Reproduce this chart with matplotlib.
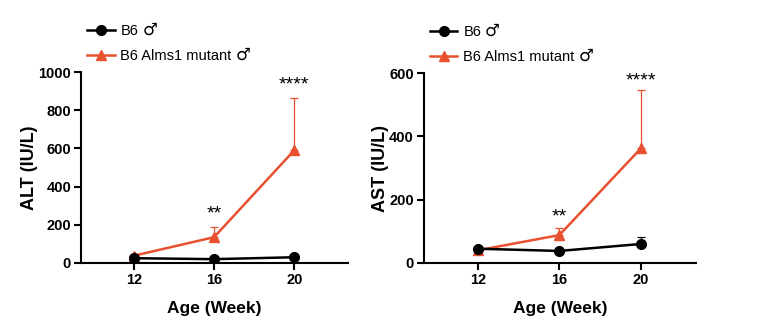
import matplotlib
matplotlib.use("Agg")
import matplotlib.pyplot as plt
from matplotlib.lines import Line2D

plt.rcParams['font.family'] = ['Liberation Sans', 'DejaVu Sans']

weeks = [12, 16, 20]
groups = ["B6", "B6 Alms1 mutant"]

alt_b6 = [25, 20, 30]
alt_b6_err = [5, 4, 6]
alt_mut = [38, 135, 590]
alt_mut_err = [8, 55, 275]

ast_b6 = [45, 38, 60]
ast_b6_err = [4, 3, 23]
ast_mut = [40, 88, 362]
ast_mut_err = [4, 22, 183]

alt_stars = ["", "**", "****"]
alt_star_y = [None, 255, 930]
ast_stars = ["", "**", "****"]
ast_star_y = [None, 145, 575]

black = "#000000"
red = "#e8502f"

fig = plt.figure(figsize=(7.69, 3.35), dpi=100)
ax1 = fig.add_axes([0.105, 0.215, 0.348, 0.57])
ax2 = fig.add_axes([0.551, 0.215, 0.354, 0.567])


def draw(ax, b6, b6_err, mut, mut_err, ymax, ystep, ylabel, stars, star_y):
    ax.errorbar(weeks, mut, yerr=[[0] * 3, mut_err], color=red, lw=1.8,
                marker="^", ms=7, capsize=3, elinewidth=0.9, capthick=0.9,
                zorder=2)
    ax.errorbar(weeks, b6, yerr=[[0] * 3, b6_err], color=black, lw=1.8,
                marker="o", ms=7, capsize=3, elinewidth=0.9, capthick=0.9,
                zorder=3)
    for x, s, y in zip(weeks, stars, star_y):
        if s:
            ax.text(x, y, s, ha="center", va="center", fontsize=14)
    ax.set_xlim(9.35, 22.7)
    ax.set_ylim(0, ymax)
    ax.set_xticks(weeks)
    ax.set_yticks(range(0, ymax + 1, ystep))
    for side in ("top", "right"):
        ax.spines[side].set_visible(False)
    for side in ("left", "bottom"):
        ax.spines[side].set_linewidth(1.5)
    ax.tick_params(width=1.5, length=5, pad=2, labelsize=10.5)
    for lbl in ax.get_xticklabels() + ax.get_yticklabels():
        lbl.set_fontweight("bold")
    ax.set_xlabel("Age (Week)", fontsize=12.5, fontweight="bold", labelpad=10)
    ax.set_ylabel(ylabel, fontsize=13, fontweight="bold", labelpad=0)
    handles = [
        Line2D([], [], color=black, lw=1.8, marker="o", ms=7),
        Line2D([], [], color=red, lw=1.8, marker="^", ms=7),
    ]
    return ax.legend(handles, groups, loc="lower left",
                     bbox_to_anchor=(-0.01, 1.0), frameon=False, fontsize=10.5,
                     handlelength=1.9, handletextpad=0.4, labelspacing=0.75,
                     borderaxespad=0.2)


legends = [
    draw(ax1, alt_b6, alt_b6_err, alt_mut, alt_mut_err, 1000, 200,
         "ALT (IU/L)", alt_stars, alt_star_y),
    draw(ax2, ast_b6, ast_b6_err, ast_mut, ast_mut_err, 600, 200,
         "AST (IU/L)", ast_stars, ast_star_y),
]

# male sign after each legend entry, drawn a bit larger than the label text
fig.canvas.draw()
W, H = fig.canvas.get_width_height()
for leg in legends:
    for t in leg.get_texts():
        bb = t.get_window_extent()
        fig.text((bb.x1 + 4) / W, (bb.y0 + bb.y1) / 2 / H + 0.004, "♂",
                 family=["DejaVu Sans"], fontsize=12,
                 ha="left", va="center")

fig.savefig("out.png", dpi=100)
